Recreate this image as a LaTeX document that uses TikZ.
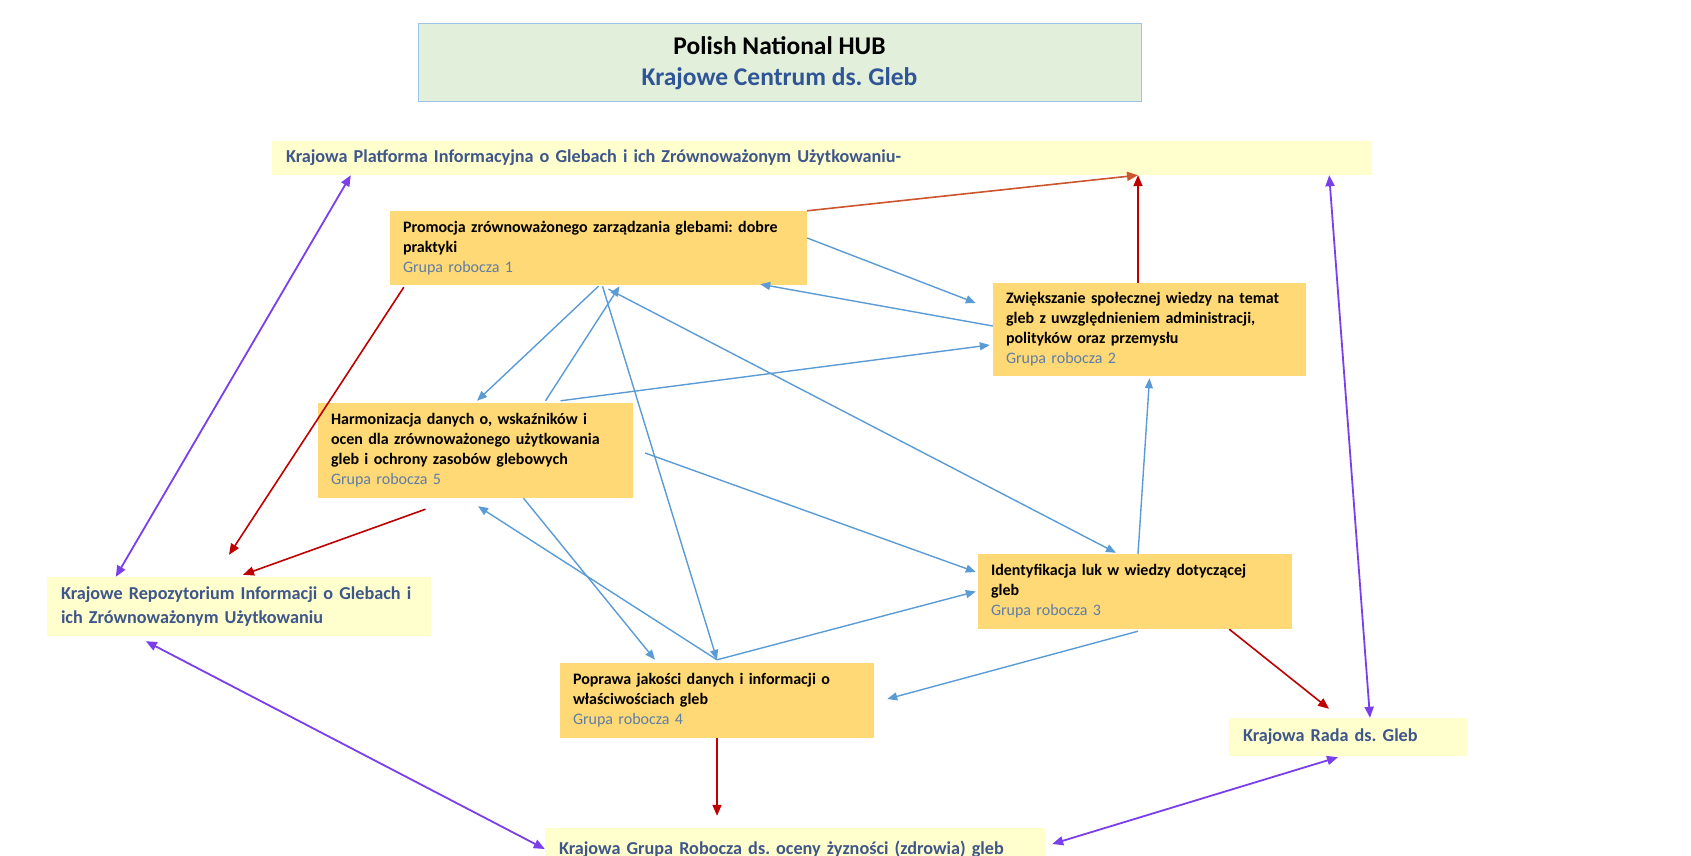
\documentclass[tikz,border=0pt]{standalone}
\usepackage{fontspec}
\setmainfont{Carlito}
\frenchspacing
\usetikzlibrary{arrows.meta}
\definecolor{hubfill}{RGB}{226,239,218}
\definecolor{hubline}{RGB}{157,195,230}
\definecolor{hubblue}{RGB}{47,85,151}
\definecolor{platfill}{RGB}{255,255,206}
\definecolor{navytext}{RGB}{62,86,138}
\definecolor{grfill}{RGB}{255,217,117}
\definecolor{grptext}{RGB}{96,125,165}
\definecolor{blueline}{RGB}{91,155,213}
\definecolor{redline}{RGB}{192,0,0}
\definecolor{orangeline}{RGB}{205,85,45}
\definecolor{purpleline}{RGB}{122,62,235}
\newcommand{\grupa}[1]{{\mdseries\color{grptext}Grupa robocza #1}}
\begin{document}
\begin{tikzpicture}[x=1pt,y=-1pt,
	grbox/.style={fill=grfill,inner xsep=13pt,inner ysep=0pt,align=left,font=\bfseries\fontsize{16}{20}\selectfont},
	natbox/.style={fill=platfill,inner xsep=14pt,inner ysep=0pt,align=left,text=navytext,font=\bfseries\fontsize{18.2}{24}\selectfont},
	blue/.style={draw=blueline,line width=1.4pt,-{Triangle[length=10pt,width=8pt]}},
	red/.style={draw=redline,line width=1.6pt,-{Triangle[length=11pt,width=9pt]}},
	both/.style={draw=purpleline,line width=1.8pt,{Triangle[length=11pt,width=9pt]}-{Triangle[length=11pt,width=9pt]}}]
	\useasboundingbox (0,0) rectangle (1691,856);
	\node[fill=hubfill,draw=hubline,line width=1pt,minimum width=723pt,minimum height=78pt,align=center,font=\bfseries\fontsize{25.5}{31}\selectfont] (hub) at (779.5,63) {Polish National HUB\\{\color{hubblue}Krajowe Centrum ds. Gleb}};
	\node[natbox,text width=1072pt,minimum height=34pt] (plat) at (822,158) {Krajowa Platforma Informacyjna o Glebach i ich Zrównoważonym Użytkowaniu-};
	\node[grbox,text width=391pt,minimum height=74pt] (gr1) at (598.5,248) {Promocja zrównoważonego zarządzania glebami: dobre\\praktyki\\\grupa{1}};
	\node[grbox,text width=287pt,minimum height=93pt] (gr2) at (1149.5,329.5) {Zwiększanie społecznej wiedzy na temat\\gleb z uwzględnieniem administracji,\\polityków oraz przemysłu\\\grupa{2}};
	\node[grbox,text width=289pt,minimum height=95pt] (gr5) at (475.5,450.5) {Harmonizacja danych o, wskaźników i\\ocen dla zrównoważonego użytkowania\\gleb i ochrony zasobów glebowych\\\grupa{5}};
	\node[natbox,text width=356pt,minimum height=59pt] (repo) at (239,606.5) {Krajowe Repozytorium Informacji o Glebach i\\ich Zrównoważonym Użytkowaniu};
	\node[grbox,text width=288pt,minimum height=75pt] (gr3) at (1135,591.5) {Identyfikacja luk w wiedzy dotyczącej\\gleb\\\grupa{3}};
	\node[grbox,text width=288pt,minimum height=75pt] (gr4) at (717,700.5) {Poprawa jakości danych i informacji o\\właściwościach gleb\\\grupa{4}};
	\node[natbox,text width=210pt,minimum height=38pt] (rada) at (1348,737) {Krajowa Rada ds. Gleb};
	\node[natbox,text width=472pt,minimum height=42pt] (ocena) at (795,849) {Krajowa Grupa Robocza ds. oceny żyzności (zdrowia) gleb};
	\coordinate (platin) at ([xshift=316pt]plat.south);
	\draw[red,draw=orangeline] (gr1.north east) -- (platin);
	\draw[red] ([xshift=-11.5pt]gr2.north) -- (platin);
	\draw[red] ([xshift=14pt,yshift=-2pt]gr1.south west) -- ([xshift=-10pt,yshift=22pt]repo.north);
	\draw[red] ([xshift=-50pt,yshift=-11pt]gr5.south) -- ([xshift=4pt,yshift=2pt]repo.north);
	\draw[red] ([xshift=-63pt]gr3.south east) -- ([xshift=-19pt,yshift=9pt]rada.north);
	\draw[red] (gr4.south) -- ([xshift=-78pt,yshift=12pt]ocena.north);
	\draw[both] ([xshift=79pt]plat.south west) -- ([xshift=69pt]repo.north west);
	\draw[both] ([xshift=-43pt]plat.south east) -- ([xshift=22pt]rada.north);
	\draw[both] ([xshift=99pt,yshift=-5pt]repo.south west) -- (ocena.west);
	\draw[both] ([xshift=-10pt,yshift=-1pt]rada.south) -- ([xshift=7pt,yshift=5pt]ocena.east);
	\draw[blue] ([yshift=10pt]gr1.east) -- ([xshift=-17pt,yshift=26.5pt]gr2.west);
	\draw[blue] ([yshift=3.5pt]gr2.west) -- ([xshift=-47pt,yshift=1pt]gr1.south east);
	\draw[blue] ([xshift=85pt,yshift=2pt]gr5.north) -- ([xshift=-3pt,yshift=-15.5pt]gr2.west);
	\draw[blue] ([yshift=-1pt]gr1.south) -- ([xshift=1.5pt,yshift=2pt]gr5.north);
	\draw[blue] ([xshift=70pt,yshift=2pt]gr5.north) -- ([xshift=21pt,yshift=-1pt]gr1.south);
	\draw[blue] ([xshift=4pt,yshift=-1pt]gr1.south) -- ([yshift=3pt]gr4.north);
	\draw[blue] ([xshift=10pt,yshift=-4pt]gr1.south) -- ([xshift=-19pt,yshift=1pt]gr3.north);
	\draw[blue] ([xshift=12pt,yshift=-2.5pt]gr5.east) -- ([xshift=-2pt,yshift=19.5pt]gr3.west);
	\draw[blue] ([xshift=48pt]gr5.south) -- ([xshift=-62pt,yshift=3pt]gr4.north);
	\draw[blue] ([yshift=3pt]gr4.north) -- ([xshift=2.5pt,yshift=-8pt]gr5.south);
	\draw[blue] ([yshift=3pt]gr4.north) -- ([xshift=-2pt]gr3.west);
	\draw[blue] ([xshift=3pt]gr3.north) -- ([yshift=-2pt]gr2.south);
	\draw[blue] ([xshift=3pt,yshift=-2pt]gr3.south) -- ([xshift=13pt,yshift=1.5pt]gr4.east);
\end{tikzpicture}
\end{document}
